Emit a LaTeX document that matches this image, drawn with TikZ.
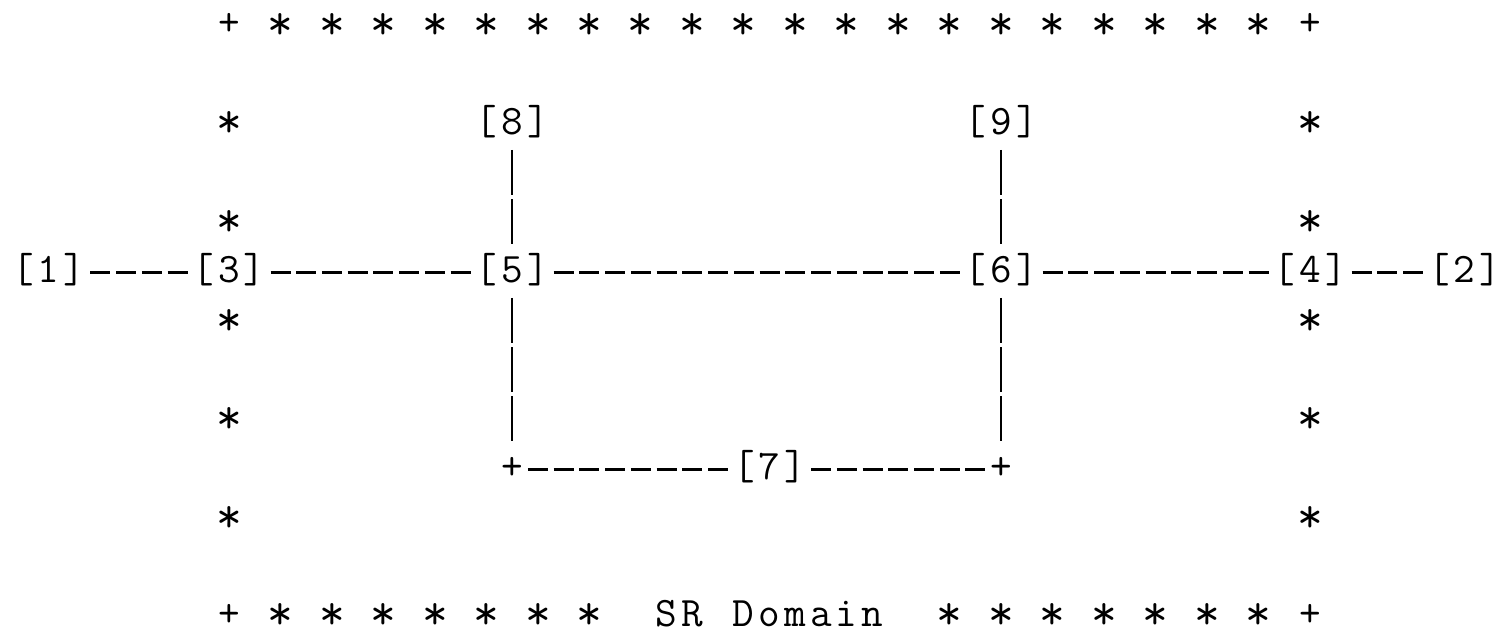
\documentclass[tikz,border=0pt]{standalone}
\usepackage{fontspec}
\newlength\cellw \setlength\cellw{12.87pt}
\newcommand\mc[1]{\makebox[\cellw][c]{#1}}
\tikzset{
 lab/.style={inner sep=0pt, outer sep=0pt, anchor=base, text height=17.325pt, text depth=7.325pt, font=\ttfamily\fontsize{21}{21}\selectfont\addfontfeature{FakeBold=1.2}},
 edge/.style={lab, text depth=1pt},
 starn/.style={lab, font=\ttfamily\fontsize{25}{25}\selectfont\addfontfeature{FakeBold=1.2}, yshift=-1.6pt},
 hdash/.style={line width=1.7pt, dash pattern=on 0pt off 1.435pt on 10pt off 1.435pt},
 vbar/.style={line width=1.1pt, dash pattern=on 0pt off 0.325pt on 22.5pt off 1.825pt}
}
\begin{document}
\begin{tikzpicture}[x=0.5pt,y=-0.5pt]
\useasboundingbox (0,0) rectangle (1508,631);
% labelled nodes
\node[lab] (n1) at (48.84,282.5) {\mc{[}\mc{1}\mc{]}};
\node[lab] (n3) at (229.02,282.5) {\mc{[}\mc{3}\mc{]}};
\node[lab] (n5) at (512.16,282.5) {\mc{[}\mc{5}\mc{]}};
\node[lab] (n6) at (1001.22,282.5) {\mc{[}\mc{6}\mc{]}};
\node[lab] (n4) at (1310.1,282.5) {\mc{[}\mc{4}\mc{]}};
\node[lab] (n2) at (1464.54,282.5) {\mc{[}\mc{2}\mc{]}};
\node[lab] (n8) at (512.16,134.6) {\mc{[}\mc{8}\mc{]}};
\node[lab] (n9) at (1001.22,134.6) {\mc{[}\mc{9}\mc{]}};
\node[lab] (n7) at (769.56,479.7) {\mc{[}\mc{7}\mc{]}};
\node[lab] (c1) at (512.16,479.7) {\mc{+}};
\node[lab] (c2) at (1001.22,479.7) {\mc{+}};
% connectors
\draw[hdash] (n1.east) -- (n3.west);
\draw[hdash] (n3.east) -- (n5.west);
\draw[hdash] (n5.east) -- (n6.west);
\draw[hdash] (n6.east) -- (n4.west);
\draw[hdash] (n4.east) -- (n2.west);
\draw[hdash] (c1.east) -- (n7.west);
\draw[hdash] (n7.east) -- (c2.west);
\draw[vbar] (n8.south) -- (n5.north);
\draw[vbar] (n9.south) -- (n6.north);
\draw[vbar] (n5.south) -- (c1.north);
\draw[vbar] (n6.south) -- (c2.north);
% SR domain border
\node[lab] (kTL) at (229.02,36) {\mc{+}};
\node[lab] (kTR) at (1310.1,36) {\mc{+}};
\node[edge] (kBL) at (229.02,626) {\mc{+}};
\node[edge] (kBR) at (1310.1,626) {\mc{+}};
\foreach \c in {10,12,...,48}
  \node[starn] (t\c) at ({23.1+25.74*\c},36) {\mc{*}};
\foreach \c in {10,12,...,22,36,38,...,48}
  \node[starn, text depth=1pt] (b\c) at ({23.1+25.74*\c},626) {\mc{*}};
\foreach \r in {2,4,6,8,10} {
  \node[starn] (l\r) at (229.02,{36+49.3*\r}) {\mc{*}};
  \node[starn] (r\r) at (1310.1,{36+49.3*\r}) {\mc{*}};
}
\node[edge] (sr) at (769.56,626) {\mc{S}\mc{R}\mc{ }\mc{D}\mc{o}\mc{m}\mc{a}\mc{i}\mc{n}};
\end{tikzpicture}
\end{document}
